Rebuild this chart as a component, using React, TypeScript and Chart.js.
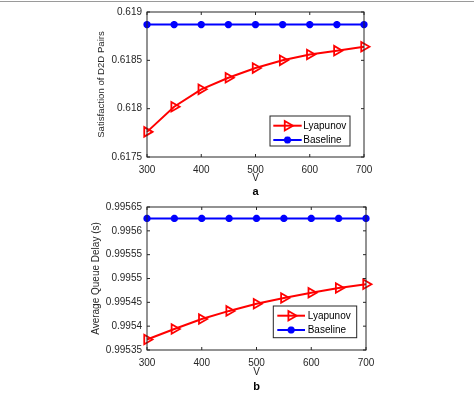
import React, { useEffect, useRef } from 'react';
import { Chart, registerables } from 'chart.js';
import { drawPoint } from 'chart.js/helpers';

Chart.register(...registerables);

// ---- data ----
const V = [300, 350, 400, 450, 500, 550, 600, 650, 700];
const xTicks = [300, 400, 500, 600, 700];
const seriesNames = ['Lyapunov', 'Baseline'];

const satLyapunov = [0.61776, 0.61802, 0.6182, 0.61832, 0.61842, 0.6185, 0.61856, 0.6186, 0.61864];
const satBaseline = [0.61887, 0.61887, 0.61887, 0.61887, 0.61887, 0.61887, 0.61887, 0.61887, 0.61887];
const satTicks = [0.6175, 0.618, 0.6185, 0.619];

const delayLyapunov = [0.995372, 0.995394, 0.995415, 0.995432, 0.995447, 0.995459, 0.99547, 0.99548, 0.995488];
const delayBaseline = [0.995626, 0.995626, 0.995626, 0.995626, 0.995626, 0.995626, 0.995626, 0.995626, 0.995626];
const delayTicks = [0.99535, 0.9954, 0.99545, 0.9955, 0.99555, 0.9956, 0.99565];

const FONT = '"Liberation Sans", Arial, Helvetica, sans-serif';
const AX = '#262626';

const matlabPlugin = {
  id: 'matlab',
  afterDraw(chart: any, _args: any, opts: any) {
    const ctx = chart.ctx;
    const { left, right, top, bottom } = chart.chartArea;
    const xs = chart.scales.x;
    const ys = chart.scales.y;
    ctx.save();
    // box
    ctx.strokeStyle = AX;
    ctx.lineWidth = 1;
    ctx.strokeRect(left, top, right - left, bottom - top);
    // inward ticks
    const tl = 3;
    ctx.beginPath();
    for (const v of opts.xTicks) {
      const px = xs.getPixelForValue(v);
      ctx.moveTo(px, bottom); ctx.lineTo(px, bottom - tl);
      ctx.moveTo(px, top); ctx.lineTo(px, top + tl);
    }
    for (const v of opts.yTicks) {
      const py = ys.getPixelForValue(v);
      ctx.moveTo(left, py); ctx.lineTo(left + tl, py);
      ctx.moveTo(right, py); ctx.lineTo(right - tl, py);
    }
    ctx.stroke();

    // legend
    const lg = opts.legend;
    const bx = right + lg.dx;
    const by = bottom + lg.dy;
    ctx.fillStyle = '#ffffff';
    ctx.fillRect(bx, by, lg.w, lg.h);
    ctx.strokeStyle = AX;
    ctx.lineWidth = 1;
    ctx.strokeRect(bx, by, lg.w, lg.h);
    chart.data.datasets.forEach((ds: any, i: number) => {
      const ry = by + lg.rows[i];
      ctx.strokeStyle = ds.borderColor;
      ctx.lineWidth = ds.borderWidth;
      ctx.beginPath();
      ctx.moveTo(bx + lg.lineStart, ry);
      ctx.lineTo(bx + lg.lineEnd, ry);
      ctx.stroke();
      ctx.fillStyle = ds.pointBackgroundColor;
      ctx.strokeStyle = ds.pointBorderColor;
      ctx.lineWidth = ds.pointBorderWidth;
      drawPoint(ctx, {
        pointStyle: ds.pointStyle,
        rotation: ds.pointRotation || 0,
        radius: ds.pointRadius,
        borderWidth: ds.pointBorderWidth,
      } as any, bx + (lg.lineStart + lg.lineEnd) / 2, ry);
      ctx.fillStyle = '#000000';
      ctx.font = `10px ${FONT}`;
      ctx.textAlign = 'left';
      ctx.textBaseline = 'middle';
      ctx.fillText(ds.label, bx + lg.textX, ry + 0.5);
    });

    // panel label
    ctx.fillStyle = '#000000';
    ctx.font = `bold 11px ${FONT}`;
    ctx.textAlign = 'center';
    ctx.textBaseline = 'middle';
    ctx.fillText(opts.panel, (left + right) / 2, opts.panelY);
    ctx.restore();
  },
};

function makeConfig(p: any): any {
  return {
    type: 'line',
    data: {
      datasets: [
        {
          label: seriesNames[0],
          data: V.map((v, i) => ({ x: v, y: p.lyap[i] })),
          borderColor: '#ff0000',
          borderWidth: 2,
          pointStyle: 'triangle',
          pointRotation: 90,
          pointRadius: 5.5,
          pointBorderWidth: 1.8,
          pointBorderColor: '#ff0000',
          pointBackgroundColor: 'rgba(255,255,255,0)',
          clip: false,
        },
        {
          label: seriesNames[1],
          data: V.map((v, i) => ({ x: v, y: p.base[i] })),
          borderColor: '#0000ff',
          borderWidth: 2,
          pointStyle: 'star',
          pointRadius: 3.6,
          pointBorderWidth: 2.4,
          pointBorderColor: '#0000ff',
          pointBackgroundColor: '#0000ff',
          clip: false,
        },
      ],
    },
    options: {
      responsive: false,
      animation: false,
      devicePixelRatio: 1,
      events: [],
      layout: { padding: p.padding },
      plugins: {
        legend: { display: false },
        tooltip: { enabled: false },
        matlab: {
          xTicks,
          yTicks: p.yTicks,
          legend: p.legend,
          panel: p.panel,
          panelY: p.panelY,
        },
      },
      scales: {
        x: {
          type: 'linear',
          min: 300,
          max: 700,
          grid: { display: false, drawTicks: false },
          border: { display: false },
          afterBuildTicks: (s: any) => { s.ticks = xTicks.map((v) => ({ value: v })); },
          afterFit: (s: any) => { s.height = p.xHeight; },
          ticks: {
            autoSkip: false,
            maxRotation: 0,
            padding: 7,
            color: AX,
            font: { family: FONT, size: 10 },
            callback: (v: any) => String(v),
          },
          title: {
            display: true,
            text: 'V',
            color: AX,
            font: { family: FONT, size: 10 },
            padding: { top: 4, bottom: 4 },
          },
        },
        y: {
          type: 'linear',
          min: p.yTicks[0],
          max: p.yTicks[p.yTicks.length - 1],
          grid: { display: false, drawTicks: false },
          border: { display: false },
          afterBuildTicks: (s: any) => { s.ticks = p.yTicks.map((v: number) => ({ value: v })); },
          afterFit: (s: any) => { s.width = p.yWidth; },
          ticks: {
            autoSkip: false,
            padding: 5,
            color: AX,
            font: { family: FONT, size: 10 },
            callback: (v: any) => String(v),
          },
          title: {
            display: true,
            text: p.yTitle,
            color: AX,
            font: { family: FONT, size: p.yTitleSize },
            padding: { top: 4, bottom: 4 },
          },
        },
      },
    },
    plugins: [matlabPlugin],
  };
}

export default function App() {
  const r1 = useRef<HTMLCanvasElement>(null);
  const r2 = useRef<HTMLCanvasElement>(null);

  useEffect(() => {
    const c1 = new Chart(r1.current as HTMLCanvasElement, makeConfig({
      lyap: satLyapunov,
      base: satBaseline,
      yTicks: satTicks,
      yTitle: 'Satisfaction of D2D Pairs',
      yTitleSize: 9.6,
      padding: { left: 92, top: 12, right: 110, bottom: 12 },
      yWidth: 55,
      xHeight: 31,
      panel: 'a',
      panelY: 191.5,
      legend: { dx: -94, dy: -41, w: 80, h: 30, lineStart: 3.3, lineEnd: 31.7, textX: 33.3, rows: [9.7, 24] },
    }));
    const c2 = new Chart(r2.current as HTMLCanvasElement, makeConfig({
      lyap: delayLyapunov,
      base: delayBaseline,
      yTicks: delayTicks,
      yTitle: 'Average Queue Delay (s)',
      yTitleSize: 10,
      padding: { left: 86.5, top: 5, right: 108, bottom: 14 },
      yWidth: 60.5,
      xHeight: 32,
      panel: 'b',
      panelY: 191,
      legend: { dx: -92.7, dy: -44, w: 83.4, h: 31.7, lineStart: 4, lineEnd: 31.7, textX: 34.4, rows: [9.7, 24] },
    }));
    return () => { c1.destroy(); c2.destroy(); };
  }, []);

  return (
    <div style={{ position: 'fixed', left: 0, top: 0, width: 474, height: 396, background: '#ffffff', overflow: 'hidden' }}>
      <div style={{ position: 'absolute', left: 0, top: 1, width: 474, height: 0, borderTop: '1px solid #9a9a9a' }} />
      <canvas ref={r1} width={474} height={200} style={{ position: 'absolute', left: 0, top: 0, width: 474, height: 200 }} />
      <canvas ref={r2} width={474} height={200} style={{ position: 'absolute', left: 0, top: 196, width: 474, height: 200 }} />
    </div>
  );
}
